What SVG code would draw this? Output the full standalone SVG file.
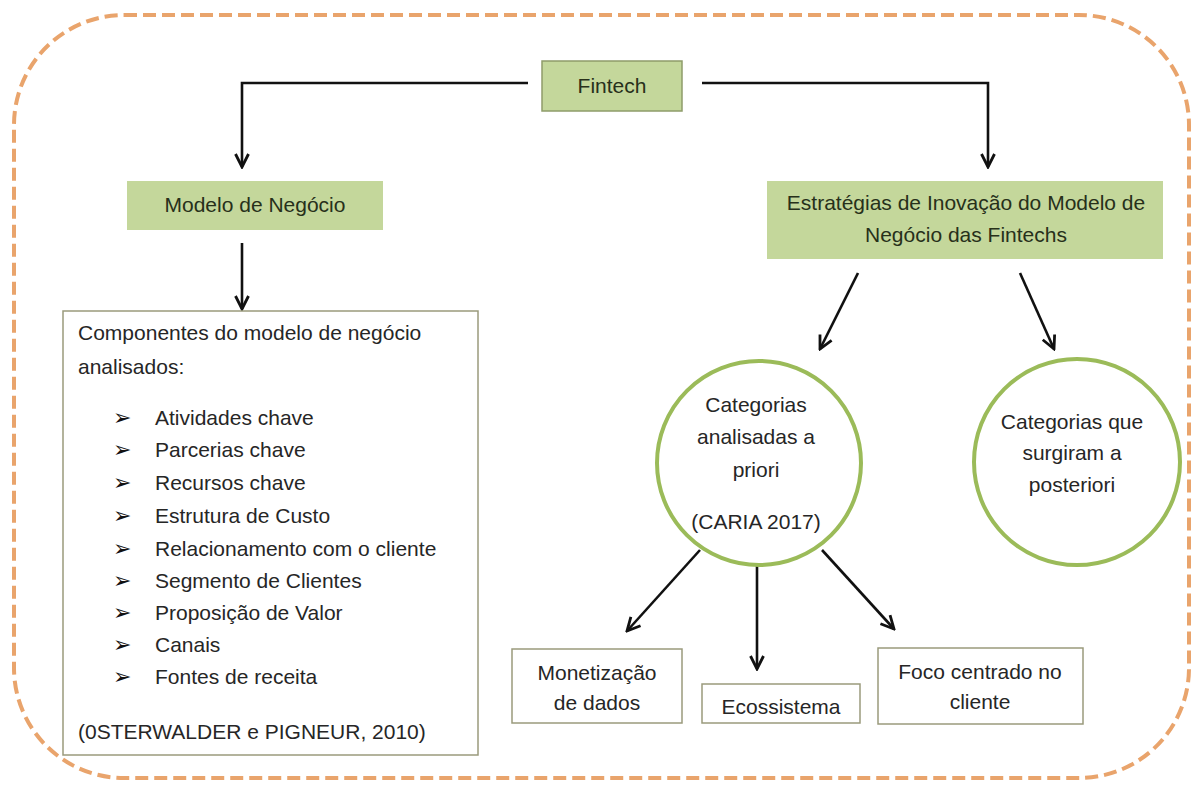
<svg xmlns="http://www.w3.org/2000/svg" width="1196" height="794" viewBox="0 0 1196 794">
  <defs>
    <style>
      .frame { fill: none; stroke: #E9A46C; stroke-width: 4; stroke-dasharray: 13 6; }
      .green { fill: #C4D79B; }
      .green-edge { fill: #C4D79B; stroke: #8E9C6A; stroke-width: 1.5; }
      .plain { fill: #FFFFFF; stroke: #9A9A7C; stroke-width: 1.5; }
      .ring { fill: #FFFFFF; stroke: #9BBB59; stroke-width: 4; }
      .t { font-family: "Liberation Sans", Arial, sans-serif; font-size: 21px; fill: #262626; }
      .tg { fill: #27301A; }
      .mid { text-anchor: middle; }
      .bul { font-family: "DejaVu Sans", sans-serif; font-size: 22px; fill: #111111; }
      .wire { fill: none; stroke: #111111; stroke-width: 2.6; }
    </style>
    <marker id="arrow" viewBox="0 0 16 16" refX="14" refY="8" markerWidth="16" markerHeight="16" markerUnits="userSpaceOnUse" orient="auto">
      <path d="M1,1.5 L14,8 L1,14.5" fill="none" stroke="#111111" stroke-width="2.8"/>
    </marker>
  </defs>

  <rect width="1196" height="794" fill="#FFFFFF"/>

  <!-- dashed outer frame -->
  <rect class="frame" x="14" y="15" width="1175" height="763" rx="110" ry="110"/>

  <!-- connectors -->
  <g id="connectors">
    <path class="wire" d="M528,83 H242 V167" marker-end="url(#arrow)"/>
    <path class="wire" d="M702,83 H988 V167" marker-end="url(#arrow)"/>
    <path class="wire" d="M242,243 V309" marker-end="url(#arrow)"/>
    <path class="wire" d="M858,273 L820,349" marker-end="url(#arrow)"/>
    <path class="wire" d="M1020,273 L1054,349" marker-end="url(#arrow)"/>
    <path class="wire" d="M700,550 L627,631" marker-end="url(#arrow)"/>
    <path class="wire" d="M757,566 V669" marker-end="url(#arrow)"/>
    <path class="wire" d="M822,550 L894,629" marker-end="url(#arrow)"/>
  </g>

  <g id="fintech">
    <rect class="green-edge" x="542" y="61" width="140" height="50"/>
    <text class="t tg mid" x="612" y="93">Fintech</text>
  </g>

  <g id="modelo-negocio">
    <rect class="green" x="127" y="181" width="256" height="49"/>
    <text class="t tg mid" x="255" y="212">Modelo de Negócio</text>
  </g>

  <g id="estrategias">
    <rect class="green" x="767" y="181" width="396" height="78"/>
    <text class="t tg mid" x="966" y="210">Estratégias de Inovação do Modelo de</text>
    <text class="t tg mid" x="966" y="242">Negócio das Fintechs</text>
  </g>

  <g id="componentes">
    <rect class="plain" x="63" y="311" width="415" height="444"/>
    <text class="t" x="78" y="340">Componentes do modelo de negócio</text>
    <text class="t" x="78" y="374">analisados:</text>
    <g class="bul">
      <text x="113" y="425">➢</text>
      <text x="113" y="457">➢</text>
      <text x="113" y="490">➢</text>
      <text x="113" y="523">➢</text>
      <text x="113" y="556">➢</text>
      <text x="113" y="588">➢</text>
      <text x="113" y="620">➢</text>
      <text x="113" y="652">➢</text>
      <text x="113" y="684">➢</text>
    </g>
    <text class="t" x="155" y="425">Atividades chave</text>
    <text class="t" x="155" y="457">Parcerias chave</text>
    <text class="t" x="155" y="490">Recursos chave</text>
    <text class="t" x="155" y="523">Estrutura de Custo</text>
    <text class="t" x="155" y="556">Relacionamento com o cliente</text>
    <text class="t" x="155" y="588">Segmento de Clientes</text>
    <text class="t" x="155" y="620">Proposição de Valor</text>
    <text class="t" x="155" y="652">Canais</text>
    <text class="t" x="155" y="684">Fontes de receita</text>
    <text class="t" x="78" y="739">(0STERWALDER e PIGNEUR, 2010)</text>
  </g>

  <g id="categorias-priori">
    <circle class="ring" cx="759" cy="463" r="102"/>
    <text class="t mid" x="756" y="412">Categorias</text>
    <text class="t mid" x="756" y="444">analisadas a</text>
    <text class="t mid" x="756" y="477">priori</text>
    <text class="t mid" x="756" y="529">(CARIA 2017)</text>
  </g>

  <g id="categorias-posteriori">
    <circle class="ring" cx="1077" cy="462" r="103"/>
    <text class="t mid" x="1072" y="429">Categorias que</text>
    <text class="t mid" x="1072" y="460">surgiram a</text>
    <text class="t mid" x="1072" y="492">posteriori</text>
  </g>

  <g id="monetizacao">
    <rect class="plain" x="512" y="649" width="170" height="74"/>
    <text class="t mid" x="597" y="680">Monetização</text>
    <text class="t mid" x="597" y="710">de dados</text>
  </g>

  <g id="ecossistema">
    <rect class="plain" x="702" y="684" width="158" height="39"/>
    <text class="t mid" x="781" y="714">Ecossistema</text>
  </g>

  <g id="foco-cliente">
    <rect class="plain" x="878" y="648" width="205" height="76"/>
    <text class="t mid" x="980" y="679">Foco centrado no</text>
    <text class="t mid" x="980" y="709">cliente</text>
  </g>
</svg>
